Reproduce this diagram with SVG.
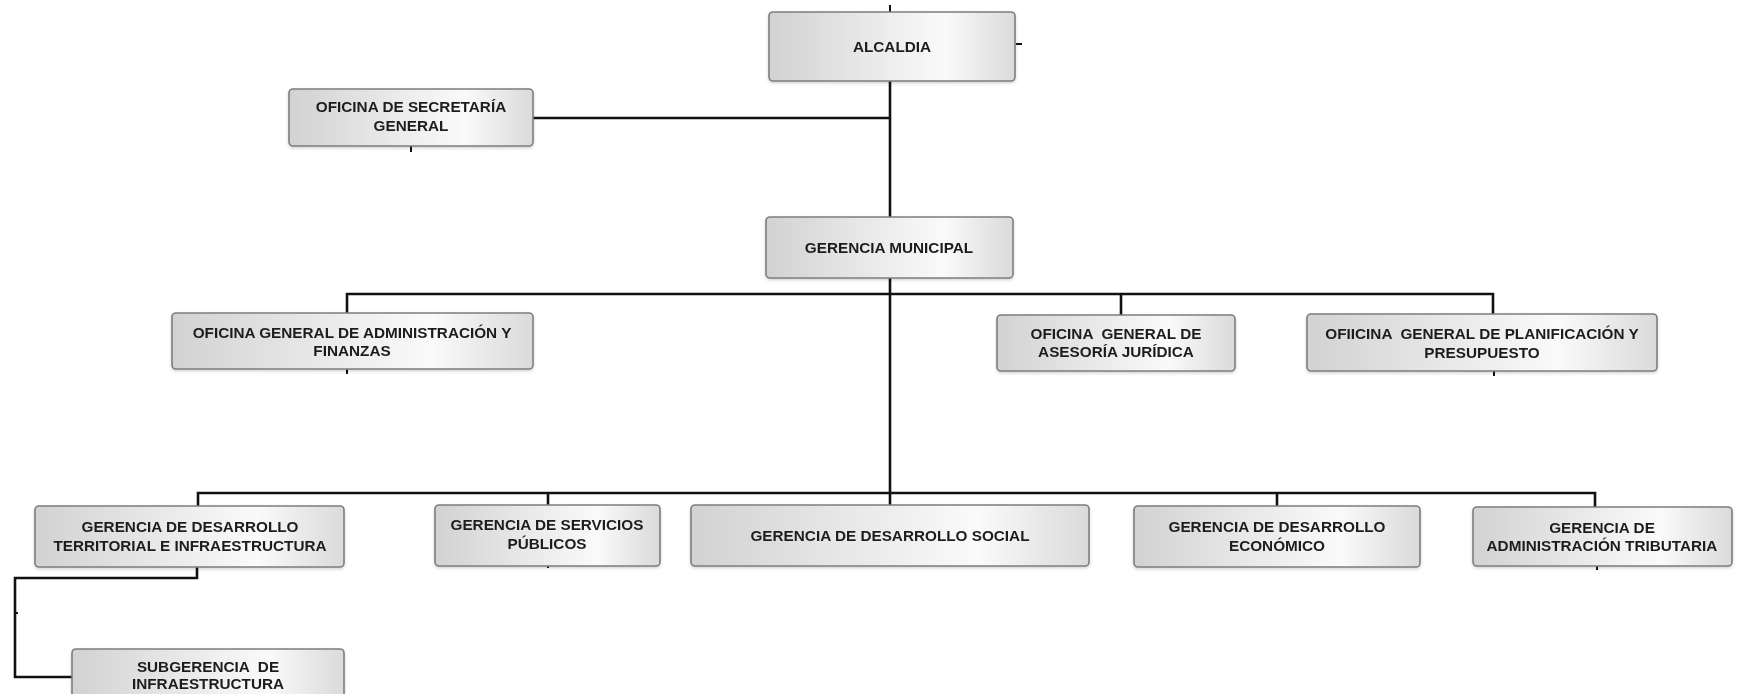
<svg xmlns="http://www.w3.org/2000/svg" width="1739" height="694" viewBox="0 0 1739 694">
<style>
.box{fill:url(#g);stroke:#7d7d7d;stroke-width:1.6}
.t{font-family:"Liberation Sans",Arial,sans-serif;font-weight:bold;font-size:15.3px;fill:#1e1e1e;text-anchor:middle;dominant-baseline:central}
.c{fill:none;stroke:#111;stroke-width:2.6}
.k{fill:none;stroke:#111;stroke-width:2}
</style>
<defs>
<linearGradient id="g" x1="0" y1="0" x2="1" y2="0">
<stop offset="0" stop-color="#d2d2d2"/>
<stop offset="0.72" stop-color="#fafafa"/>
<stop offset="1" stop-color="#dadada"/>
</linearGradient>
<filter id="sh" x="-5%" y="-20%" width="110%" height="140%">
<feDropShadow dx="0" dy="1.5" stdDeviation="1.5" flood-color="#000" flood-opacity="0.18"/>
</filter>
</defs>
<rect width="1739" height="694" fill="#fff"/>
<g id="connectors">
<path class="c" d="M890 81V505"/>
<path class="c" d="M533 118H890"/>
<path class="c" d="M347 314V294H1493V314"/>
<path class="c" d="M1121 294V315"/>
<path class="c" d="M198 506V493H1595V507"/>
<path class="c" d="M548 493V505"/>
<path class="c" d="M1277 493V506"/>
<path class="c" d="M197 567V578H15V677H72"/>
<path class="k" d="M890 5V12"/>
<path class="k" d="M1016 44H1022"/>
<path class="k" d="M411 146V152"/>
<path class="k" d="M347 369V374"/>
<path class="k" d="M1494 371V376"/>
<path class="k" d="M1597 566V570"/>
<path class="k" d="M548 566V568"/>
<path class="k" d="M15 613H18"/>
</g>
<g id="alcaldia" filter="url(#sh)"><rect class="box" x="769" y="12" width="246" height="69" rx="4"/><text class="t" x="892" y="46">ALCALDIA</text></g>
<g id="secretaria" filter="url(#sh)"><rect class="box" x="289" y="89" width="244" height="57" rx="4"/><text class="t" x="411" y="106">OFICINA DE SECRETARÍA</text><text class="t" x="411" y="125">GENERAL</text></g>
<g id="gerencia-municipal" filter="url(#sh)"><rect class="box" x="766" y="217" width="247" height="61" rx="4"/><text class="t" x="889" y="247">GERENCIA MUNICIPAL</text></g>
<g id="administracion" filter="url(#sh)"><rect class="box" x="172" y="313" width="361" height="56" rx="4"/><text class="t" x="352" y="332">OFICINA GENERAL DE ADMINISTRACIÓN Y</text><text class="t" x="352" y="350">FINANZAS</text></g>
<g id="asesoria" filter="url(#sh)"><rect class="box" x="997" y="315" width="238" height="56" rx="4"/><text class="t" x="1116" y="333" xml:space="preserve">OFICINA  GENERAL DE</text><text class="t" x="1116" y="351">ASESORÍA JURÍDICA</text></g>
<g id="planificacion" filter="url(#sh)"><rect class="box" x="1307" y="314" width="350" height="57" rx="4"/><text class="t" x="1482" y="333" xml:space="preserve">OFIICINA  GENERAL DE PLANIFICACIÓN Y</text><text class="t" x="1482" y="352">PRESUPUESTO</text></g>
<g id="desarrollo-territorial" filter="url(#sh)"><rect class="box" x="35" y="506" width="309" height="61" rx="4"/><text class="t" x="190" y="526">GERENCIA DE DESARROLLO</text><text class="t" x="190" y="545">TERRITORIAL E INFRAESTRUCTURA</text></g>
<g id="servicios" filter="url(#sh)"><rect class="box" x="435" y="505" width="225" height="61" rx="4"/><text class="t" x="547" y="524">GERENCIA DE SERVICIOS</text><text class="t" x="547" y="543">PÚBLICOS</text></g>
<g id="social" filter="url(#sh)"><rect class="box" x="691" y="505" width="398" height="61" rx="4"/><text class="t" x="890" y="535">GERENCIA DE DESARROLLO SOCIAL</text></g>
<g id="economico" filter="url(#sh)"><rect class="box" x="1134" y="506" width="286" height="61" rx="4"/><text class="t" x="1277" y="526">GERENCIA DE DESARROLLO</text><text class="t" x="1277" y="545">ECONÓMICO</text></g>
<g id="tributaria" filter="url(#sh)"><rect class="box" x="1473" y="507" width="259" height="59" rx="4"/><text class="t" x="1602" y="527">GERENCIA DE</text><text class="t" x="1602" y="545">ADMINISTRACIÓN TRIBUTARIA</text></g>
<g id="subgerencia" filter="url(#sh)"><rect class="box" x="72" y="649" width="272" height="60" rx="4"/><text class="t" x="208" y="666" xml:space="preserve">SUBGERENCIA  DE</text><text class="t" x="208" y="683">INFRAESTRUCTURA</text></g>
</svg>
